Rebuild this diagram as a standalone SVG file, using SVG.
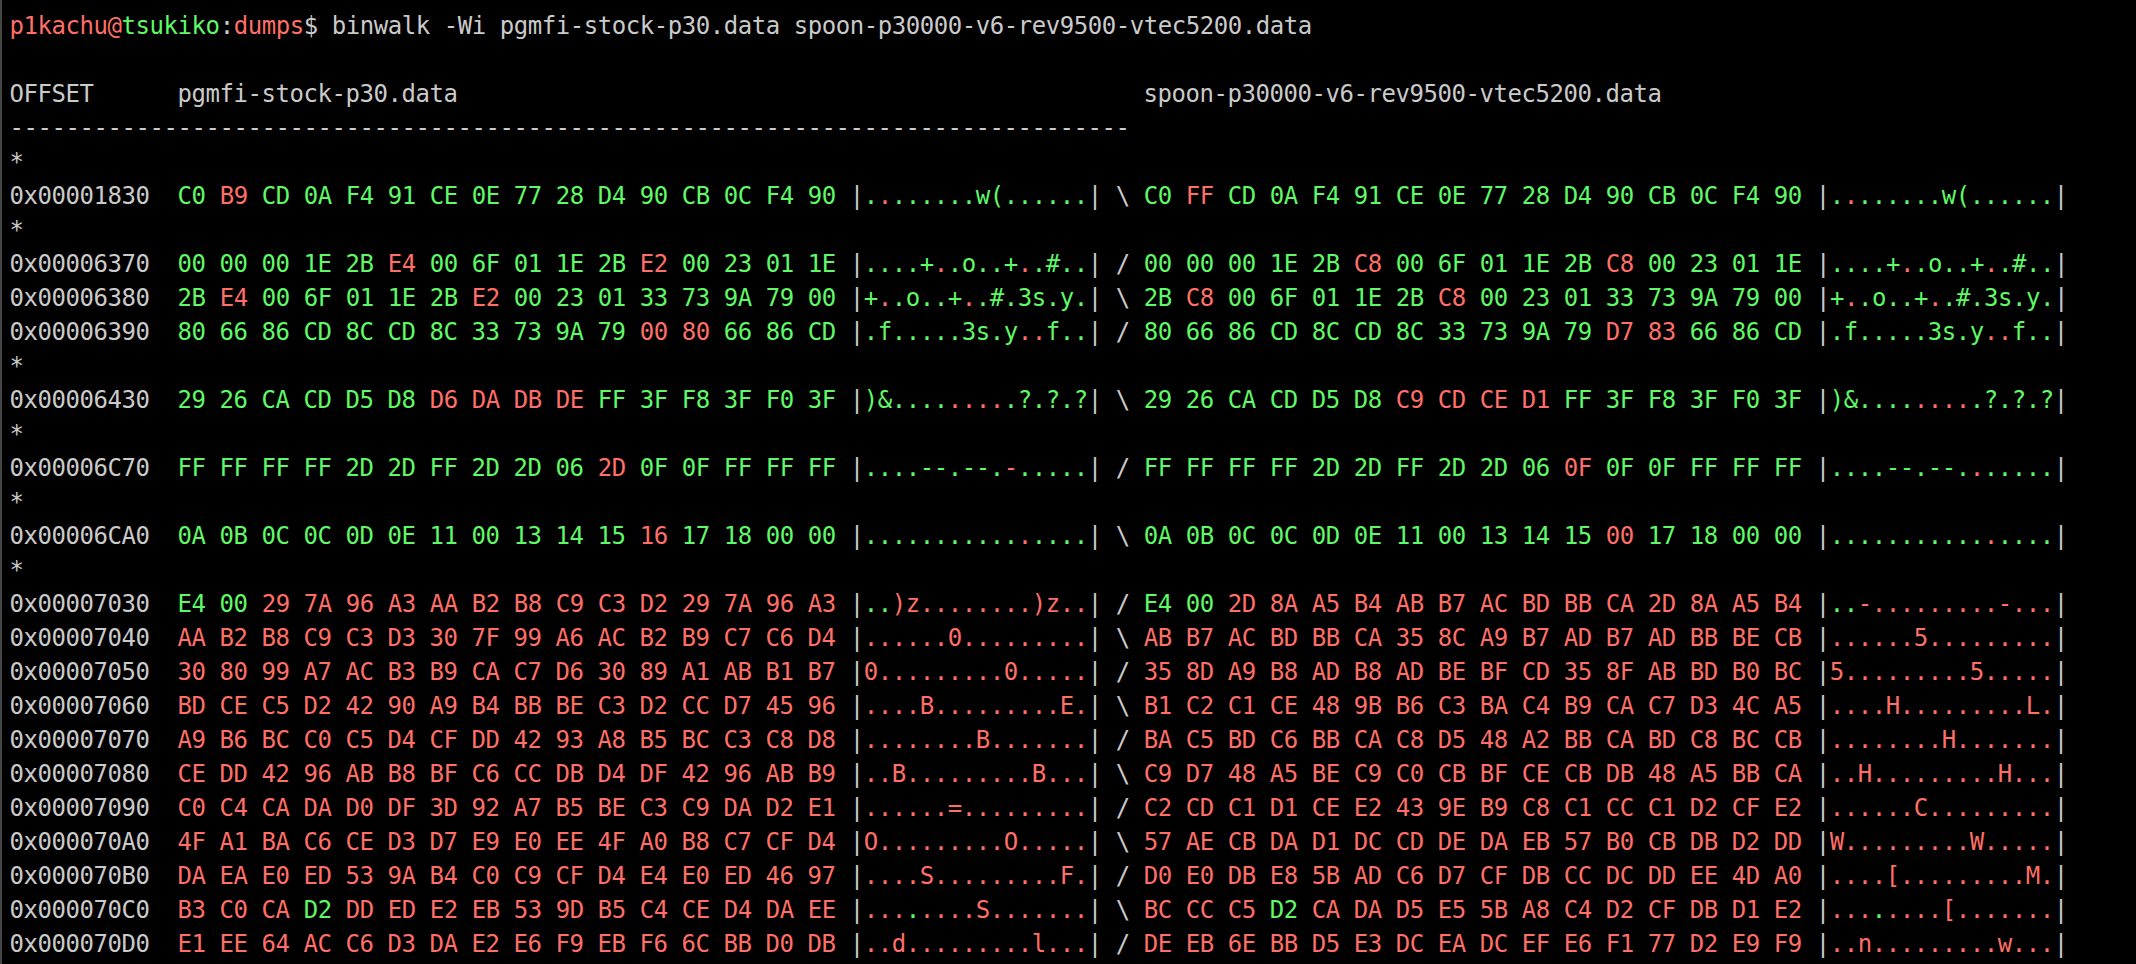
<svg xmlns="http://www.w3.org/2000/svg" width="2136" height="964" viewBox="0 0 2136 964" xml:space="preserve">
<style>
text{font-family:"DejaVu Sans Mono","Liberation Mono",monospace;font-size:24px;letter-spacing:-0.449px;white-space:pre}
.dg{fill:#5FF967}
.dr{fill:#FF6E67}
.w{fill:#CACACA}
.g{fill:#5FF967}
.r{fill:#FF6E67}
</style>
<rect x="0" y="0" width="2136" height="964" fill="#000000"/>
<rect x="0" y="0" width="2" height="964" fill="#454545"/>
<g id="terminal">
<text x="9.6" y="33.5"><tspan class="r">p1kachu@</tspan><tspan class="g">tsukiko</tspan><tspan class="w">:</tspan><tspan class="r">dumps</tspan><tspan class="w">$ binwalk -Wi pgmfi-stock-p30.data spoon-p30000-v6-rev9500-vtec5200.data</tspan></text>
<text class="w" x="9.6" y="101.5">OFFSET<tspan x="177.6">pgmfi-stock-p30.data</tspan><tspan x="1143.6">spoon-p30000-v6-rev9500-vtec5200.data</tspan></text>
<text class="w" x="9.6" y="135.5">--------------------------------------------------------------------------------</text>
<text class="w" x="9.6" y="169.5">*</text>
<text class="dg" x="9.6" y="203.5"><tspan class="w">0x00001830  </tspan>C0 <tspan class="r">B9</tspan> CD 0A F4 91 CE 0E 77 28 D4 90 CB 0C F4 90 <tspan class="w">|</tspan>.<tspan class="r">.</tspan>......w(......<tspan class="w">| \ </tspan>C0 <tspan class="r">FF</tspan> CD 0A F4 91 CE 0E 77 28 D4 90 CB 0C F4 90 <tspan class="w">|</tspan>.<tspan class="r">.</tspan>......w(......<tspan class="w">|</tspan></text>
<text class="w" x="9.6" y="237.5">*</text>
<text class="dg" x="9.6" y="271.5"><tspan class="w">0x00006370  </tspan>00 00 00 1E 2B <tspan class="r">E4</tspan> 00 6F 01 1E 2B <tspan class="r">E2</tspan> 00 23 01 1E <tspan class="w">|</tspan>....+<tspan class="r">.</tspan>.o..+<tspan class="r">.</tspan>.#..<tspan class="w">| / </tspan>00 00 00 1E 2B <tspan class="r">C8</tspan> 00 6F 01 1E 2B <tspan class="r">C8</tspan> 00 23 01 1E <tspan class="w">|</tspan>....+<tspan class="r">.</tspan>.o..+<tspan class="r">.</tspan>.#..<tspan class="w">|</tspan></text>
<text class="dg" x="9.6" y="305.5"><tspan class="w">0x00006380  </tspan>2B <tspan class="r">E4</tspan> 00 6F 01 1E 2B <tspan class="r">E2</tspan> 00 23 01 33 73 9A 79 00 <tspan class="w">|</tspan>+<tspan class="r">.</tspan>.o..+<tspan class="r">.</tspan>.#.3s.y.<tspan class="w">| \ </tspan>2B <tspan class="r">C8</tspan> 00 6F 01 1E 2B <tspan class="r">C8</tspan> 00 23 01 33 73 9A 79 00 <tspan class="w">|</tspan>+<tspan class="r">.</tspan>.o..+<tspan class="r">.</tspan>.#.3s.y.<tspan class="w">|</tspan></text>
<text class="dg" x="9.6" y="339.5"><tspan class="w">0x00006390  </tspan>80 66 86 CD 8C CD 8C 33 73 9A 79 <tspan class="r">00 80</tspan> 66 86 CD <tspan class="w">|</tspan>.f.....3s.y<tspan class="r">..</tspan>f..<tspan class="w">| / </tspan>80 66 86 CD 8C CD 8C 33 73 9A 79 <tspan class="r">D7 83</tspan> 66 86 CD <tspan class="w">|</tspan>.f.....3s.y<tspan class="r">..</tspan>f..<tspan class="w">|</tspan></text>
<text class="w" x="9.6" y="373.5">*</text>
<text class="dg" x="9.6" y="407.5"><tspan class="w">0x00006430  </tspan>29 26 CA CD D5 D8 <tspan class="r">D6 DA DB DE</tspan> FF 3F F8 3F F0 3F <tspan class="w">|</tspan>)&amp;....<tspan class="r">....</tspan>.?.?.?<tspan class="w">| \ </tspan>29 26 CA CD D5 D8 <tspan class="r">C9 CD CE D1</tspan> FF 3F F8 3F F0 3F <tspan class="w">|</tspan>)&amp;....<tspan class="r">....</tspan>.?.?.?<tspan class="w">|</tspan></text>
<text class="w" x="9.6" y="441.5">*</text>
<text class="dg" x="9.6" y="475.5"><tspan class="w">0x00006C70  </tspan>FF FF FF FF 2D 2D FF 2D 2D 06 <tspan class="r">2D</tspan> 0F 0F FF FF FF <tspan class="w">|</tspan>....--.--.<tspan class="r">-</tspan>.....<tspan class="w">| / </tspan>FF FF FF FF 2D 2D FF 2D 2D 06 <tspan class="r">0F</tspan> 0F 0F FF FF FF <tspan class="w">|</tspan>....--.--.<tspan class="r">.</tspan>.....<tspan class="w">|</tspan></text>
<text class="w" x="9.6" y="509.5">*</text>
<text class="dg" x="9.6" y="543.5"><tspan class="w">0x00006CA0  </tspan>0A 0B 0C 0C 0D 0E 11 00 13 14 15 <tspan class="r">16</tspan> 17 18 00 00 <tspan class="w">|</tspan>...........<tspan class="r">.</tspan>....<tspan class="w">| \ </tspan>0A 0B 0C 0C 0D 0E 11 00 13 14 15 <tspan class="r">00</tspan> 17 18 00 00 <tspan class="w">|</tspan>...........<tspan class="r">.</tspan>....<tspan class="w">|</tspan></text>
<text class="w" x="9.6" y="577.5">*</text>
<text class="dr" x="9.6" y="611.5"><tspan class="w">0x00007030  </tspan><tspan class="g">E4 00</tspan> 29 7A 96 A3 AA B2 B8 C9 C3 D2 29 7A 96 A3 <tspan class="w">|</tspan><tspan class="g">..</tspan>)z........)z..<tspan class="w">| / </tspan><tspan class="g">E4 00</tspan> 2D 8A A5 B4 AB B7 AC BD BB CA 2D 8A A5 B4 <tspan class="w">|</tspan><tspan class="g">..</tspan>-.........-...<tspan class="w">|</tspan></text>
<text class="dr" x="9.6" y="645.5"><tspan class="w">0x00007040  </tspan>AA B2 B8 C9 C3 D3 30 7F 99 A6 AC B2 B9 C7 C6 D4 <tspan class="w">|</tspan>......0.........<tspan class="w">| \ </tspan>AB B7 AC BD BB CA 35 8C A9 B7 AD B7 AD BB BE CB <tspan class="w">|</tspan>......5.........<tspan class="w">|</tspan></text>
<text class="dr" x="9.6" y="679.5"><tspan class="w">0x00007050  </tspan>30 80 99 A7 AC B3 B9 CA C7 D6 30 89 A1 AB B1 B7 <tspan class="w">|</tspan>0.........0.....<tspan class="w">| / </tspan>35 8D A9 B8 AD B8 AD BE BF CD 35 8F AB BD B0 BC <tspan class="w">|</tspan>5.........5.....<tspan class="w">|</tspan></text>
<text class="dr" x="9.6" y="713.5"><tspan class="w">0x00007060  </tspan>BD CE C5 D2 42 90 A9 B4 BB BE C3 D2 CC D7 45 96 <tspan class="w">|</tspan>....B.........E.<tspan class="w">| \ </tspan>B1 C2 C1 CE 48 9B B6 C3 BA C4 B9 CA C7 D3 4C A5 <tspan class="w">|</tspan>....H.........L.<tspan class="w">|</tspan></text>
<text class="dr" x="9.6" y="747.5"><tspan class="w">0x00007070  </tspan>A9 B6 BC C0 C5 D4 CF DD 42 93 A8 B5 BC C3 C8 D8 <tspan class="w">|</tspan>........B.......<tspan class="w">| / </tspan>BA C5 BD C6 BB CA C8 D5 48 A2 BB CA BD C8 BC CB <tspan class="w">|</tspan>........H.......<tspan class="w">|</tspan></text>
<text class="dr" x="9.6" y="781.5"><tspan class="w">0x00007080  </tspan>CE DD 42 96 AB B8 BF C6 CC DB D4 DF 42 96 AB B9 <tspan class="w">|</tspan>..B.........B...<tspan class="w">| \ </tspan>C9 D7 48 A5 BE C9 C0 CB BF CE CB DB 48 A5 BB CA <tspan class="w">|</tspan>..H.........H...<tspan class="w">|</tspan></text>
<text class="dr" x="9.6" y="815.5"><tspan class="w">0x00007090  </tspan>C0 C4 CA DA D0 DF 3D 92 A7 B5 BE C3 C9 DA D2 E1 <tspan class="w">|</tspan>......=.........<tspan class="w">| / </tspan>C2 CD C1 D1 CE E2 43 9E B9 C8 C1 CC C1 D2 CF E2 <tspan class="w">|</tspan>......C.........<tspan class="w">|</tspan></text>
<text class="dr" x="9.6" y="849.5"><tspan class="w">0x000070A0  </tspan>4F A1 BA C6 CE D3 D7 E9 E0 EE 4F A0 B8 C7 CF D4 <tspan class="w">|</tspan>O.........O.....<tspan class="w">| \ </tspan>57 AE CB DA D1 DC CD DE DA EB 57 B0 CB DB D2 DD <tspan class="w">|</tspan>W.........W.....<tspan class="w">|</tspan></text>
<text class="dr" x="9.6" y="883.5"><tspan class="w">0x000070B0  </tspan>DA EA E0 ED 53 9A B4 C0 C9 CF D4 E4 E0 ED 46 97 <tspan class="w">|</tspan>....S.........F.<tspan class="w">| / </tspan>D0 E0 DB E8 5B AD C6 D7 CF DB CC DC DD EE 4D A0 <tspan class="w">|</tspan>....[.........M.<tspan class="w">|</tspan></text>
<text class="dr" x="9.6" y="917.5"><tspan class="w">0x000070C0  </tspan>B3 C0 CA <tspan class="g">D2</tspan> DD ED E2 EB 53 9D B5 C4 CE D4 DA EE <tspan class="w">|</tspan>...<tspan class="g">.</tspan>....S.......<tspan class="w">| \ </tspan>BC CC C5 <tspan class="g">D2</tspan> CA DA D5 E5 5B A8 C4 D2 CF DB D1 E2 <tspan class="w">|</tspan>...<tspan class="g">.</tspan>....[.......<tspan class="w">|</tspan></text>
<text class="dr" x="9.6" y="951.5"><tspan class="w">0x000070D0  </tspan>E1 EE 64 AC C6 D3 DA E2 E6 F9 EB F6 6C BB D0 DB <tspan class="w">|</tspan>..d.........l...<tspan class="w">| / </tspan>DE EB 6E BB D5 E3 DC EA DC EF E6 F1 77 D2 E9 F9 <tspan class="w">|</tspan>..n.........w...<tspan class="w">|</tspan></text>
</g>
</svg>
